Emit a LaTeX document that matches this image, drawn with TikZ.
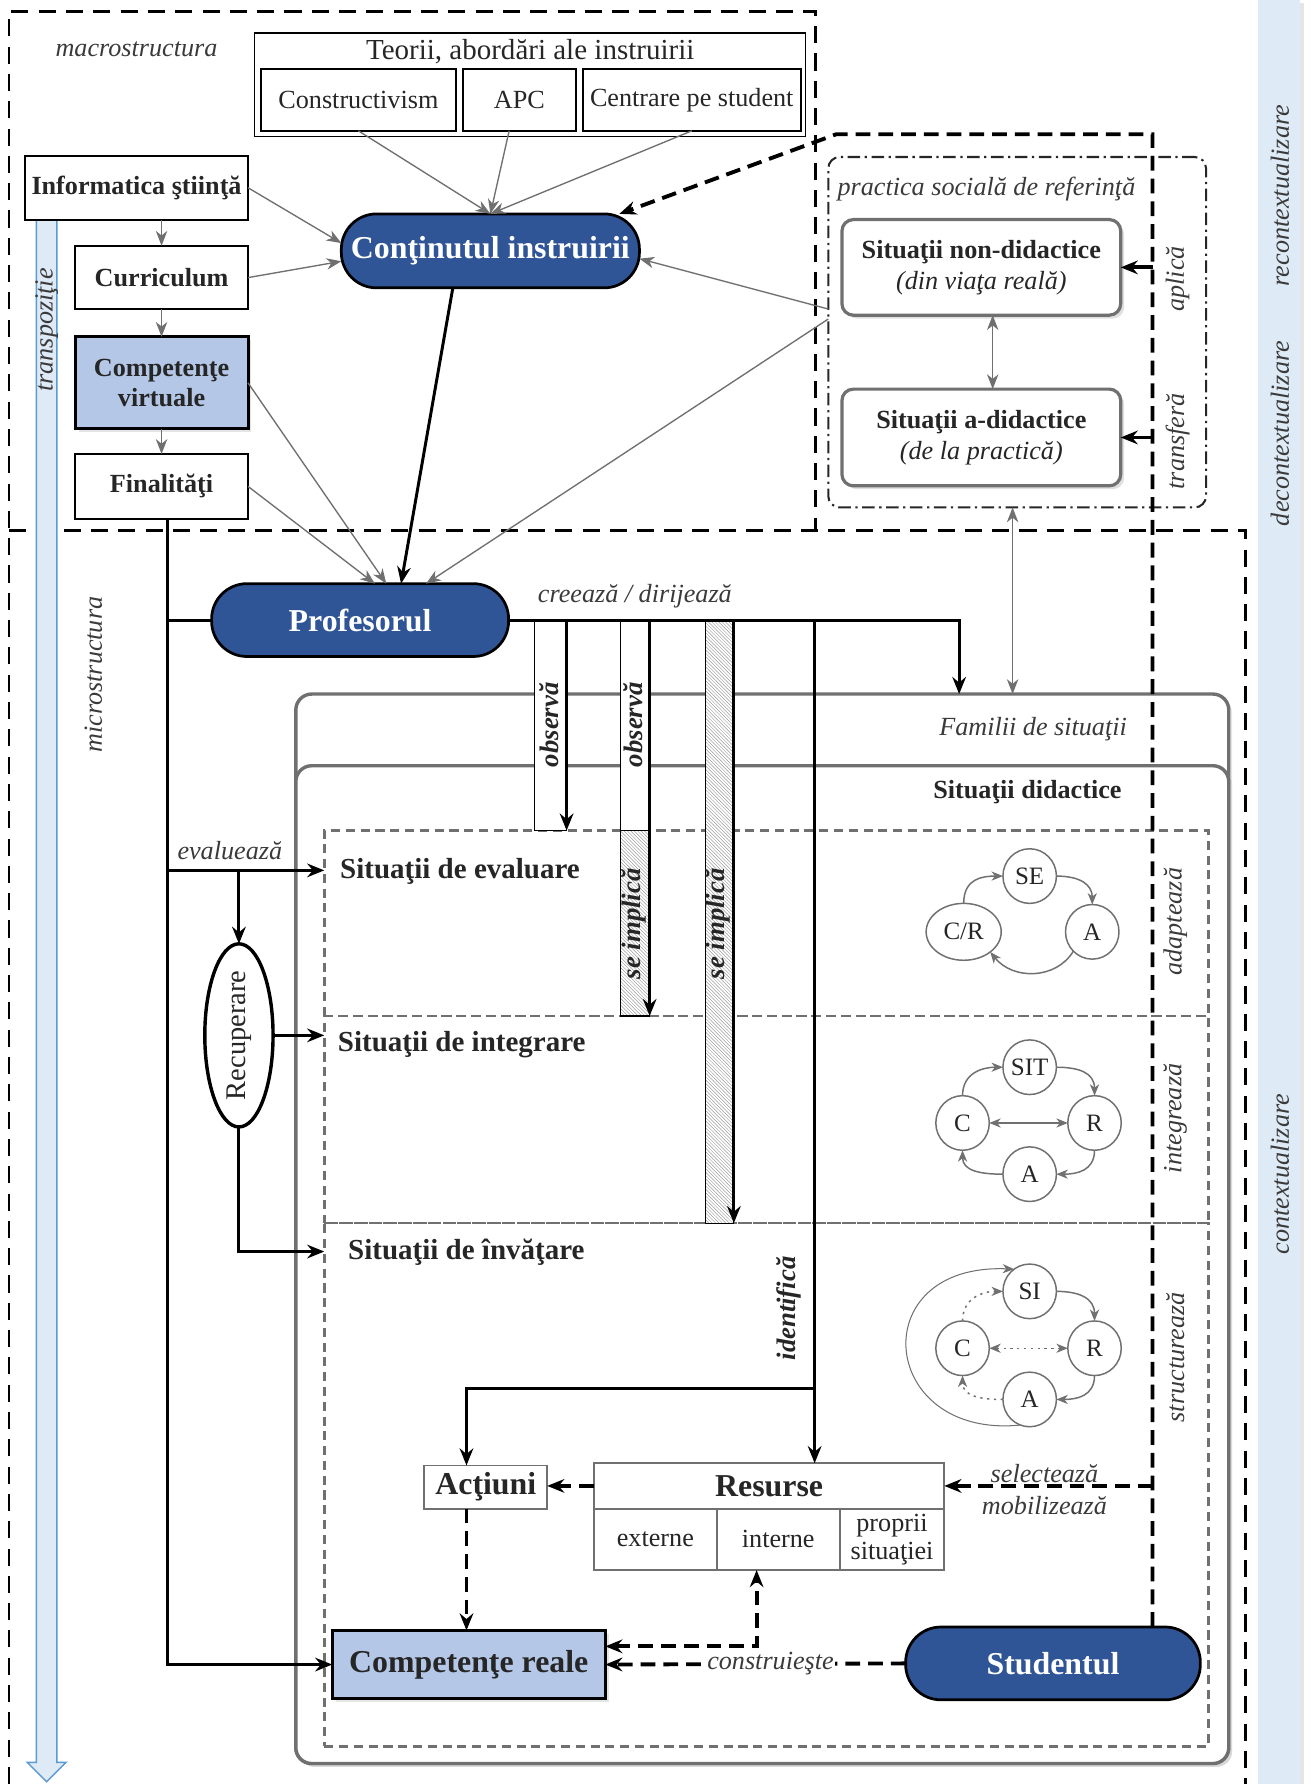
\documentclass[tikz,border=0pt]{standalone}
\usepackage{fontspec}
\setmainfont{Liberation Serif}
\usetikzlibrary{arrows.meta,patterns,shapes.geometric,calc,shadows}

\definecolor{dblue}{HTML}{2F5597}
\definecolor{lblue}{HTML}{B4C7E7}
\definecolor{paleblue}{HTML}{DEEAF6}
\definecolor{edgeblue}{HTML}{5B9BD5}
\definecolor{gline}{HTML}{707070}
\definecolor{txt}{HTML}{262626}
\definecolor{itxt}{HTML}{3A3A3A}

\tikzset{
  BigHead/.tip={Stealth[length=15pt,width=12pt,inset=5pt]},
  SmallHead/.tip={Stealth[length=13pt,width=10pt,inset=4pt]},
  TinyHead/.tip={Stealth[length=10pt,width=8pt,inset=3pt]},
  r23/.style={font=\fontsize{23pt}{26pt}\selectfont},
  b23/.style={font=\fontsize{23pt}{27pt}\selectfont\bfseries},
  i23/.style={font=\fontsize{23pt}{26pt}\selectfont\itshape,text=itxt},
  bi23/.style={font=\fontsize{23.5pt}{26pt}\selectfont\bfseries\itshape},
  b28/.style={font=\fontsize{28pt}{30pt}\selectfont\bfseries},
  b25/.style={font=\fontsize{25.5pt}{28pt}\selectfont\bfseries},
  blk/.style={draw=black,line width=2.6pt},
  blkarr/.style={blk,-BigHead},
  garr/.style={draw=gline,line width=1.2pt,-SmallHead},
  gdarr/.style={draw=gline,line width=1.2pt,SmallHead-SmallHead},
  sdash/.style={draw=black,line width=3.4pt,dash pattern=on 13pt off 7pt},
  sdarr/.style={sdash,-BigHead},
  regdash/.style={draw=black,line width=2.4pt,dash pattern=on 15pt off 9pt},
  subdash/.style={draw=gline,line width=2.2pt,dash pattern=on 8pt off 5pt},
  cyarr/.style={draw=gline,line width=1.3pt,-TinyHead},
  cydot/.style={cyarr,dash pattern=on 2pt off 4pt},
  cyc/.style={ellipse,draw=gline,line width=1.3pt,fill=white,minimum width=47pt,minimum height=48pt,font=\fontsize{22pt}{22pt}\selectfont},
  tbox/.style={draw=black,line width=1.8pt,minimum height=54pt,r23},
  lbox/.style={draw=black,line width=1.8pt,fill=white,b23},
  bignode/.style={draw=black,line width=2.4pt,fill=dblue,rounded corners=31pt,text=white,b28},
  sbox/.style={draw=gline,line width=2.8pt,fill=white,rounded corners=10pt,align=center,font=\fontsize{23pt}{27pt}\selectfont,drop shadow={shadow xshift=3pt,shadow yshift=-3pt,fill=black!25}},
  famframe/.style={draw=gline,line width=3pt,fill=white,rounded corners=14pt,drop shadow={shadow xshift=3pt,shadow yshift=-3pt,fill=black!20}},
  wbar/.style={draw=black,line width=1pt,fill=white},
  hbar/.style={draw=black,line width=1pt,preaction={fill=white},pattern=north west lines,pattern color=black!38},
  cell/.style={draw=gline,line width=1.6pt,fill=white},
}

\begin{document}
\begin{tikzpicture}[x=1pt,y=-1pt,every node/.style={inner sep=0pt,outer sep=0pt,text=txt}]
\useasboundingbox (0,0) rectangle (1152,1568);

% side band with the context levels
\fill[black!10] (1143,3) rectangle (1146,1568);
\fill[paleblue] (1106,0) rectangle (1143,1568);
\node[rotate=90,i23] (lrec) at (1125,172) {recontextualizare};
\node[rotate=90,i23] (ldec) at (1125,381) {decontextualizare};
\node[rotate=90,i23] (lcon) at (1125,1032) {contextualizare};

% macro and micro frames
\draw[regdash] (8,1568) -- (8,10) -- (717,10) -- (717,466);
\draw[regdash] (8,466) -- (1095,466) -- (1095,1568);
\node[i23] (lmacro) at (120,43) {macrostructura};
\node[rotate=90,i23] (lmicro) at (82,593) {microstructura};

% transposition arrow
\draw[draw=edgeblue,fill=paleblue,line width=1.3pt] (32,193) -- (50,193) -- (50,1549) -- (58,1549) -- (41,1566) -- (24,1549) -- (32,1549) -- cycle;
\node[rotate=90,i23] (ltransp) at (41,290) {transpoziţie};

% families of situations
\node[famframe,minimum width=820pt,minimum height=940pt] (fam) at (670,1080) {};
\node[famframe,minimum width=820pt,minimum height=877pt] (did) at (670,1111.5) {};
\node[i23] (lfam) at (908,641) {Familii de situaţii};
\node[b23] (ldid) at (903,696) {Situaţii didactice};

\node[subdash,minimum width=777pt,minimum height=163pt] (sev) at (673.5,811.5) {};
\node[subdash,minimum width=777pt,minimum height=182pt] (sint) at (673.5,984) {};
\node[subdash,minimum width=777pt,minimum height=460pt] (sinv) at (673.5,1305) {};
\node[b25,anchor=west] (lsev) at (299,766) {Situaţii de evaluare};
\node[b25,anchor=west] (lsint) at (297,918) {Situaţii de integrare};
\node[b25,anchor=west] (lsinv) at (306,1101) {Situaţii de învăţare};

\node[rotate=90,i23] (ladapt) at (1033,810) {adaptează};
\node[rotate=90,i23] (linteg) at (1033,983) {integrează};
\node[rotate=90,i23] (lstruct) at (1033,1193) {structurează};

% evaluation cycle
\node[cyc] (se) at (905,770) {SE};
\node[cyc,minimum width=66pt,minimum height=50pt] (cr) at (847,819) {C/R};
\node[cyc] (ea) at (960,819) {A};
\draw[cyarr] (cr.north) .. controls +(0,-22) and +(-18,0) .. (se.west);
\draw[cyarr] (se.east) .. controls +(20,0) and +(0,-18) .. (ea.north);
\draw[cyarr] (ea.south west) .. controls +(-15,25) and +(20,25) .. (cr.south east);

% integration cycle
\node[cyc] (sit) at (905,938) {SIT};
\node[cyc] (ic) at (846,987) {C};
\node[cyc] (ir) at (962,987) {R};
\node[cyc] (ia) at (905,1032) {A};
\draw[cyarr] (ic.north) .. controls +(0,-20) and +(-18,0) .. (sit.west);
\draw[cyarr] (sit.east) .. controls +(20,0) and +(0,-20) .. (ir.north);
\draw[cyarr] (ir.south) .. controls +(0,18) and +(18,0) .. (ia.east);
\draw[cyarr] (ia.west) .. controls +(-20,0) and +(0,18) .. (ic.south);
\draw[cyarr,TinyHead-TinyHead] (ic.east) -- (ir.west);

% learning cycle
\node[cyc] (si) at (905,1135) {SI};
\node[cyc] (lc) at (846,1185) {C};
\node[cyc] (lr) at (962,1185) {R};
\node[cyc] (la) at (905,1230) {A};
\draw[cydot] (lc.north) .. controls +(0,-20) and +(-18,0) .. (si.west);
\draw[cyarr] (si.east) .. controls +(20,0) and +(0,-20) .. (lr.north);
\draw[cyarr] (lr.south) .. controls +(0,18) and +(18,0) .. (la.east);
\draw[cydot] (la.west) .. controls +(-20,0) and +(0,18) .. (lc.south);
\draw[cydot,TinyHead-TinyHead] (lc.east) -- (lr.west);
\draw[draw=gline,line width=0.9pt,-TinyHead] (la.250) .. controls (772,1265) and (758,1110) .. (si.125);

% social practice of reference
\node[draw=black!85,line width=1.8pt,dash pattern=on 11pt off 4pt on 2pt off 4pt,rounded corners=10pt,minimum width=332pt,minimum height=308pt] (prac) at (894,292) {};
\node[i23] (lprac) at (867,166) {practica socială de referinţă};
\node[sbox,minimum width=245pt,minimum height=84pt] (nond) at (862.5,235) {\textbf{Situaţii non-didactice}\\\textit{(din viaţa reală)}};
\node[sbox,minimum width=245pt,minimum height=85pt] (adid) at (862.5,384.5) {\textbf{Situaţii a-didactice}\\\textit{(de la practică)}};
\node[rotate=90,i23] (laplica) at (1035,245) {aplică};
\node[rotate=90,i23] (ltransf) at (1035,388) {transferă};
\draw[gdarr] ($(nond.south)+(10,0)$) -- ($(adid.north)+(10,0)$);
\coordinate (pracb) at ($(prac.south)+(-4,0)$);
\draw[gdarr] (pracb) -- (pracb |- fam.north);

% theories
\node[draw=black,line width=1pt,minimum width=484pt,minimum height=91pt] (teorii) at (466,74.5) {};
\node[font=\fontsize{25.5pt}{28pt}\selectfont] (lteorii) at (466,45) {Teorii, abordări ale instruirii};
\node[tbox,minimum width=172pt] (constr) at (315,88) {Constructivism};
\node[tbox,minimum width=99pt] (apc) at (456.5,88) {APC};
\node[tbox,minimum width=192pt] (centr) at (608,88) {Centrare pe student};

% left column
\node[lbox,minimum width=196pt,minimum height=56pt] (info) at (120,165) {Informatica ştiinţă};
\node[lbox,minimum width=152pt,minimum height=56pt] (curr) at (142,244) {Curriculum};
\node[lbox,fill=lblue,line width=2.6pt,minimum width=152pt,minimum height=81pt,align=center,drop shadow={shadow xshift=3pt,shadow yshift=-3pt,fill=black!20}] (cvirt) at (142,336.5) {Competenţe\\virtuale};
\node[lbox,minimum width=152pt,minimum height=57pt] (fin) at (142,427.5) {Finalităţi};
\draw[garr] (info.south -| curr.north) -- (curr.north);
\draw[garr] (curr.south) -- (cvirt.north);
\draw[garr] (cvirt.south) -- (fin.north);

% actors
\node[bignode,minimum width=262pt,minimum height=65pt] (cont) at (431,220.5) {Conţinutul instruirii};
\node[bignode,minimum width=261pt,minimum height=64pt] (prof) at (316.5,545) {Profesorul};
\node[bignode,minimum width=259pt,minimum height=64pt] (stud) at (925.5,1462) {Studentul};

% inputs of the content
\draw[garr] (constr.south) -- (cont.north);
\draw[garr] ($(apc.south)+(-9,0)$) -- (cont.north);
\draw[garr] (centr.south) -- (cont.north);
\draw[garr] (info.east) -- (cont.177);
\draw[garr] (curr.east) -- (cont.184);
\draw[garr] (prac.173) -- (cont.-3);

% inputs of the teacher
\draw[garr] (cvirt.east) -- ($(prof.north)+(23,0)$);
\draw[garr] (fin.east) -- ($(prof.north)+(13,0)$);
\draw[garr] (prac.176) -- ($(prof.north)+(58,0)$);
\draw[blkarr] ($(cont.south)+(-33,0)$) -- ($(prof.north)+(36,0)$);

% observation / involvement bars
\node[wbar,minimum width=28pt,minimum height=185pt] (ob1) at (484,637.5) {};
\node[wbar,minimum width=26pt,minimum height=185pt] (ob2) at (558,637.5) {};
\node[hbar,minimum width=26pt,minimum height=163pt] (im2) at (558,811.5) {};
\node[hbar,minimum width=25pt,minimum height=530pt] (im3) at (632.5,810) {};
\node[rotate=90,bi23] (lob1) at (483,637) {observă};
\node[rotate=90,bi23] (lob2) at (557,637) {observă};
\node[rotate=90,bi23] (lim2) at (557,812) {se implică};
\node[rotate=90,bi23] (lim3) at (631,812) {se implică};

% teacher creates and directs
\coordinate (famin) at (843,610);
\draw[blkarr] (prof.east) -| (famin);
\node[i23] (lcreeaza) at (558,524) {creează / dirijează};
\draw[blkarr] (ob1.north east) -- (ob1.south east);
\draw[blkarr] (ob2.north east) -- (im2.south east);
\draw[blkarr] (im3.north east) -- (im3.south east);

% resources and actions
\node[cell,minimum width=308pt,minimum height=40pt,b28] (res) at (676,1306) {Resurse};
\node[cell,minimum width=108pt,minimum height=54pt,r23] (ext) at (576,1353) {externe};
\node[cell,minimum width=108pt,minimum height=54pt,r23] (intn) at (684,1353) {interne};
\node[cell,minimum width=92pt,minimum height=54pt,align=center,font=\fontsize{23pt}{25pt}\selectfont] (prop) at (784,1353) {proprii\\situaţiei};
\node[cell,minimum width=108pt,minimum height=38pt,b28] (act) at (427,1307) {Acţiuni};
\node[draw=black,line width=2.8pt,fill=lblue,minimum width=240pt,minimum height=60pt,b28,drop shadow={shadow xshift=3pt,shadow yshift=-3pt,fill=black!20}] (comr) at (412,1463) {Competenţe reale};

% identification
\coordinate (idtop) at (716,545);
\coordinate (idj) at (716,1220);
\coordinate (actin) at ($(act.north)+(-17,0)$);
\draw[blkarr] (idtop) -- (idtop |- res.north);
\draw[blkarr] (idj) -| (actin);
\node[rotate=90,bi23] (lident) at (693,1150) {identifică};

% evaluation and remediation trunk
\node[ellipse,draw=black,line width=3pt,fill=white,rotate=90,minimum width=150pt,minimum height=60pt,font=\fontsize{25pt}{25pt}\selectfont] (recup) at (210,910) {Recuperare};
\coordinate (trk) at ($(fin.south)+(5,0)$);
\coordinate (evj) at (147,765);
\coordinate (invin) at (285,1100);
\draw[blkarr] (trk) |- (comr.west);
\draw[blk] (trk |- prof.west) -- (prof.west);
\draw[blkarr] (evj) -- (evj -| sev.west);
\node[i23] (leval) at (202,748) {evaluează};
\draw[blkarr] (recup.east |- evj) -- (recup.east);
\draw[blkarr] (recup.south) -- (recup.south -| sint.west);
\draw[blkarr] (recup.west) |- (invin);

% student activity
\coordinate (actout) at ($(act.south)+(-17,0)$);
\coordinate (intin) at ($(intn.south)+(-19,0)$);
\coordinate (comrr) at ($(comr.east)+(0,-16)$);
\draw[sdarr] (res.west) -- (res.west -| act.east);
\draw[sdarr] (actout) -- (actout |- comr.north);
\draw[sdash,BigHead-BigHead] (comrr) -| (intin);
\draw[sdarr] (stud.west) -- (comr.east) node[pos=0.45,fill=white,inner sep=1pt,i23] (lcons) {construieşte};

\coordinate (dtop) at (1013,118);
\coordinate (dbend) at (735,118);
\draw[sdarr] (stud.north -| dtop) -- (dtop) -- (dbend) -- (cont.16);
\draw[sdarr] (dtop |- res.east) -- (res.east);
\node[i23] (lsel) at (918,1295) {selectează};
\node[i23] (lmob) at (918,1323) {mobilizează};
\draw[line width=3.4pt,-BigHead] (dtop |- nond.east) -- (nond.east);
\draw[line width=3.4pt,-BigHead] (dtop |- adid.east) -- (adid.east);
\end{tikzpicture}
\end{document}
